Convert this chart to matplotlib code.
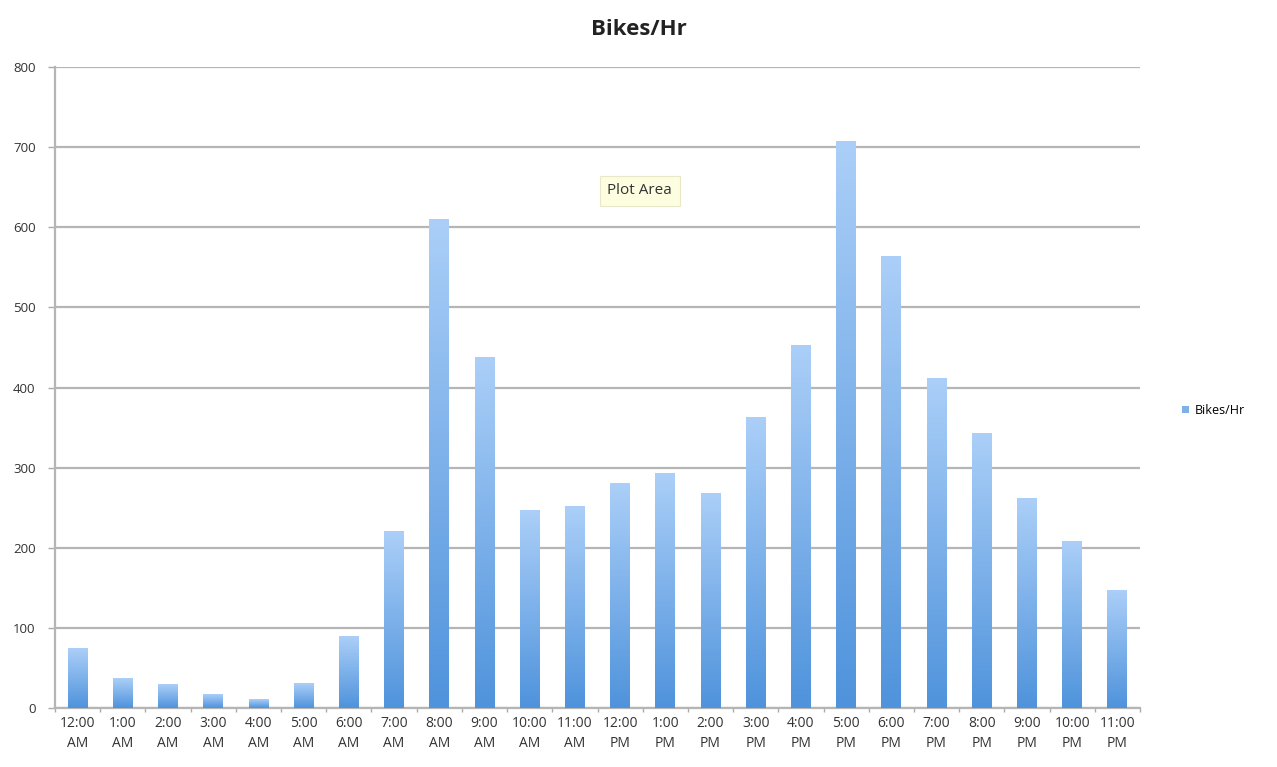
import numpy as np
import matplotlib
matplotlib.use("Agg")
import matplotlib.pyplot as plt
from matplotlib.colors import LinearSegmentedColormap
from matplotlib.patches import Patch

hours = ["12:00\nAM", "1:00\nAM", "2:00\nAM", "3:00\nAM", "4:00\nAM", "5:00\nAM",
         "6:00\nAM", "7:00\nAM", "8:00\nAM", "9:00\nAM", "10:00\nAM", "11:00\nAM",
         "12:00\nPM", "1:00\nPM", "2:00\nPM", "3:00\nPM", "4:00\nPM", "5:00\nPM",
         "6:00\nPM", "7:00\nPM", "8:00\nPM", "9:00\nPM", "10:00\nPM", "11:00\nPM"]
bikes = [74, 37, 29, 17, 11, 31, 89, 220, 610, 437, 246, 251,
         280, 293, 268, 363, 452, 707, 564, 411, 342, 262, 208, 147]
y_ticks = [0, 100, 200, 300, 400, 500, 600, 700, 800]

plt.rcParams['font.family'] = ['Open Sans', 'DejaVu Sans']

fig = plt.figure(figsize=(12.77, 7.67), dpi=100)
ax = fig.add_axes([0.0431, 0.0769, 0.8496, 0.8357])

x = np.arange(len(bikes))
width = 0.44
bars = ax.bar(x, bikes, width=width, color='none', zorder=3)

# vertical gradient: light at top, darker at bottom
cmap = LinearSegmentedColormap.from_list('bluegrad', ['#4f93dc', '#abcff8'])
grad = np.linspace(0, 1, 256).reshape(-1, 1)
for b in bars:
    x0 = b.get_x()
    h = b.get_height()
    ax.imshow(grad, extent=[x0, x0 + width, 0, h], origin='lower', aspect='auto',
              cmap=cmap, zorder=3, interpolation='bilinear')

ax.set_xlim(-0.5, len(bikes) - 0.5)
ax.set_ylim(0, 800)
ax.set_yticks(y_ticks)
ax.set_xticks(x)
ax.set_xticklabels(hours, fontsize=10, color='#333333', linespacing=1.45)
ax.set_xticks(np.arange(-0.5, len(bikes)), minor=True)
ax.tick_params(axis='x', which='major', length=0, pad=6)
ax.tick_params(axis='x', which='minor', length=3, color='#aaaaaa', width=1)
ax.tick_params(axis='y', length=5, color='#aaaaaa', width=1, labelsize=9.5,
               labelcolor='#333333', pad=9)

ax.grid(axis='y', color='#b5b5b5', linewidth=1.6, zorder=0)
ax.set_axisbelow(True)
for side in ['top', 'right']:
    ax.spines[side].set_visible(False)
ax.spines['left'].set_color('#b5b5b5')
ax.spines['left'].set_linewidth(1.6)
ax.spines['bottom'].set_color('#b5b5b5')
ax.spines['bottom'].set_linewidth(1.6)

fig.suptitle('Bikes/Hr', x=0.5, y=0.975, fontsize=16, fontweight='bold', color='#222222')

leg = fig.legend(handles=[Patch(facecolor='#7fb0e8', label='Bikes/Hr')],
                 loc='center left', bbox_to_anchor=(0.917, 0.465), frameon=False,
                 fontsize=9, handlelength=0.5, handleheight=0.5, handletextpad=0.5)

# tooltip shown in the screenshot
fig.text(0.501, 0.751, 'Plot Area', fontsize=11, color='#333333', ha='center', va='center',
         bbox=dict(boxstyle='square,pad=0.5', facecolor='#fdfde0', edgecolor='#e8e8c8', linewidth=0.8))

fig.savefig('out.png', dpi=100)
